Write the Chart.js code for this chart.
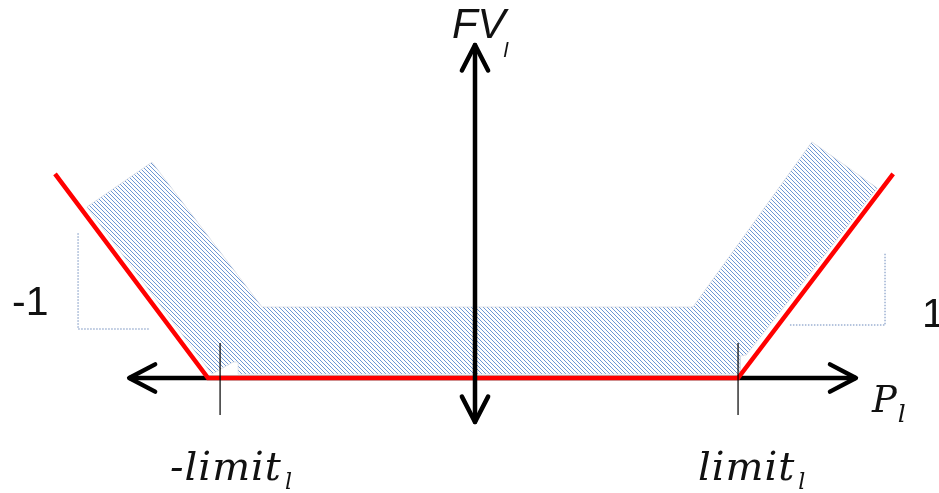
<!DOCTYPE html>
<html>
<head>
<meta charset="utf-8">
<script src="https://cdn.jsdelivr.net/npm/chart.js@4.4.1/dist/chart.umd.min.js"></script>
<style>
  html, body { margin: 0; padding: 0; background: #fff; }
  canvas { display: block; }
</style>
</head>
<body>
<canvas id="chart" width="939" height="493"></canvas>
<script>
// Units: 1.0 = limit on the P_l axis, same scale used for FV_l, origin at the axis crossing
const xRange = [-1.817, 1.767];
const yRange = [-0.439, 1.443];

// penalty curve FV_l(P_l)
const curveX = [-1.607, -1.023, 1.0, 1.592];
const curveY = [0.779, 0, 0, 0.779];

// hatched band along the curve
const bandX = [-1.485, -1.237, -0.817, 0.828, 1.282, 1.531, 1.031, 1.008, 1.008, -0.908, -0.908, -0.927, -1.008, -1.485];
const bandY = [0.653, 0.824, 0.271, 0.271, 0.901, 0.725, 0.088, 0.084, 0.015, 0.015, 0.061, 0.061, 0.015, 0.653];

// slope markers (-1 on the left, 1 on the right)
const slopeLeftX = [-1.519, -1.519, -1.244];
const slopeLeftY = [0.553, 0.187, 0.187];
const slopeRightX = [1.198, 1.561, 1.561];
const slopeRightY = [0.202, 0.202, 0.477];

// axes and arrow heads
const pAxisX = [-1.324, 1.450];
const pAxisY = [0, 0];
const pHeadLeftX = [-1.225, -1.324, -1.225];
const pHeadRightX = [1.351, 1.450, 1.351];
const pHeadY = [0.052, 0, -0.052];
const fvAxisX = [-0.004, -0.004];
const fvAxisY = [1.271, -0.168];
const fvHeadX = [-0.054, -0.004, 0.046];
const fvHeadTopY = [1.174, 1.271, 1.174];
const fvHeadBottomY = [-0.071, -0.168, -0.071];

// limit ticks
const tickPos = [-0.977, 1.0];
const tickSpan = [0.134, -0.141];

// text labels: anchor = left end of the baseline
const labels = [
    { text: 'FV', sub: 'l', x: -0.092, y: 1.298, font: 'italic 42px "Liberation Sans"', subFont: 'italic 21px "Liberation Sans"', subDx: -2, subDy: 19 },
    { text: 'P', sub: 'l', x: 1.511, y: -0.130, font: 'italic 37px "DejaVu Serif"', subFont: 'italic 25px "DejaVu Serif"', subDx: 1, subDy: 10 },
    { text: '-limit', sub: 'l', x: -1.168, y: -0.389, font: 'italic 40px "DejaVu Serif"', subFont: 'italic 22px "DejaVu Serif"', subDx: 3, subDy: 9, spacing: '1px' },
    { text: 'limit', sub: 'l', x: 0.847, y: -0.389, font: 'italic 40px "DejaVu Serif"', subFont: 'italic 22px "DejaVu Serif"', subDx: 3, subDy: 9, spacing: '1px' },
    { text: '-1', x: -1.771, y: 0.240, font: '41px "Liberation Sans"' },
    { text: '1', x: 1.702, y: 0.195, font: '41px "Liberation Sans"' }
];

const zip = (xs, ys) => xs.map((v, i) => ({ x: v, y: ys[i] }));

// diagonal "\" hatch used for the band fill
function hatchPattern() {
    const size = 4;
    const c = document.createElement('canvas');
    c.width = size;
    c.height = size;
    const g = c.getContext('2d');
    g.fillStyle = '#ffffff';
    g.fillRect(0, 0, size, size);
    g.strokeStyle = '#6591d2';
    g.lineWidth = 0.95;
    g.beginPath();
    g.moveTo(-1, -1); g.lineTo(size + 1, size + 1);
    g.moveTo(-1, size - 1); g.lineTo(1, size + 1);
    g.moveTo(size - 1, -1); g.lineTo(size + 1, 1);
    g.stroke();
    return g.createPattern(c, 'repeat');
}

const arrowStyle = {
    borderColor: '#000',
    borderWidth: 4.5,
    borderCapStyle: 'round',
    borderJoinStyle: 'round',
    pointRadius: 0,
    showLine: true,
    fill: false
};

const datasets = [
    {
        data: zip(bandX, bandY),
        showLine: true,
        fill: 'shape',
        backgroundColor: hatchPattern(),
        borderColor: 'rgba(205,210,220,0.6)',
        borderWidth: 1,
        pointRadius: 0,
        order: 10
    },
    {
        data: zip(slopeLeftX, slopeLeftY),
        showLine: true,
        borderColor: '#9db1d2',
        borderWidth: 1.5,
        borderDash: [1.5, 1.5],
        pointRadius: 0,
        order: 9
    },
    {
        data: zip(slopeRightX, slopeRightY),
        showLine: true,
        borderColor: '#9db1d2',
        borderWidth: 1.5,
        borderDash: [1.5, 1.5],
        pointRadius: 0,
        order: 9
    },
    { ...arrowStyle, data: zip(pAxisX, pAxisY), borderCapStyle: 'butt', order: 8 },
    { ...arrowStyle, data: zip(pHeadLeftX, pHeadY), order: 8 },
    { ...arrowStyle, data: zip(pHeadRightX, pHeadY), order: 8 },
    {
        data: zip(curveX, curveY),
        showLine: true,
        borderColor: '#ff0000',
        borderWidth: 4.5,
        borderJoinStyle: 'miter',
        pointRadius: 0,
        order: 7
    },
    { ...arrowStyle, data: zip(fvAxisX, fvAxisY), borderCapStyle: 'butt', order: 6 },
    { ...arrowStyle, data: zip(fvHeadX, fvHeadTopY), order: 6 },
    { ...arrowStyle, data: zip(fvHeadX, fvHeadBottomY), order: 6 },
    ...tickPos.map(t => ({
        data: zip([t, t], tickSpan),
        showLine: true,
        borderColor: '#000',
        borderWidth: 1.2,
        pointRadius: 0,
        order: 5
    }))
];

const labelPlugin = {
    id: 'axisLabels',
    afterDatasetsDraw(chart) {
        const { ctx, scales: { x, y } } = chart;
        ctx.save();
        ctx.fillStyle = '#111';
        ctx.textBaseline = 'alphabetic';
        ctx.textAlign = 'left';
        for (const lb of labels) {
            let px = x.getPixelForValue(lb.x);
            const py = y.getPixelForValue(lb.y);
            ctx.font = lb.font;
            ctx.letterSpacing = lb.spacing || '0px';
            ctx.fillText(lb.text, px, py);
            if (lb.sub) {
                px += ctx.measureText(lb.text).width;
                ctx.font = lb.subFont;
                ctx.letterSpacing = '0px';
                ctx.fillText(lb.sub, px + lb.subDx, py + lb.subDy);
            }
        }
        ctx.restore();
    }
};

new Chart(document.getElementById('chart').getContext('2d'), {
    type: 'scatter',
    data: { datasets },
    options: {
        responsive: false,
        animation: false,
        layout: { padding: 0 },
        plugins: {
            legend: { display: false },
            tooltip: { enabled: false }
        },
        scales: {
            x: { type: 'linear', display: false, min: xRange[0], max: xRange[1] },
            y: { type: 'linear', display: false, min: yRange[0], max: yRange[1] }
        }
    },
    plugins: [labelPlugin]
});
</script>
</body>
</html>
